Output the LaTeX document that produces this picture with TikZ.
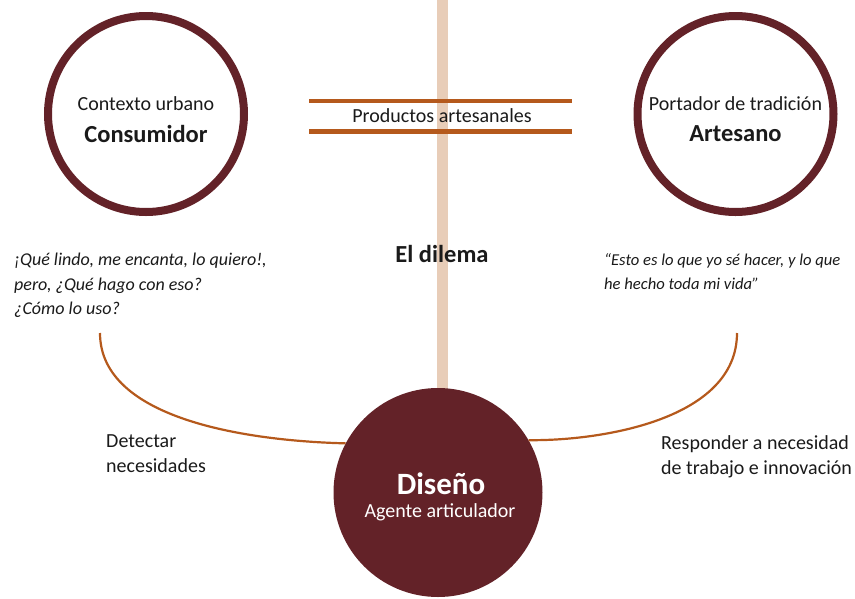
\documentclass[tikz,border=0pt]{standalone}
\usepackage{fontspec}
\setmainfont{Carlito}
\definecolor{wine}{HTML}{632228}
\definecolor{rust}{HTML}{B5591C}
\definecolor{beige}{HTML}{E8CDB8}
\definecolor{ink}{HTML}{1A1A1A}
\begin{document}
\begin{tikzpicture}[x=1pt,y=-1pt,
  ring/.style={circle,draw=wine,line width=8pt,minimum size=196pt,inner sep=0pt,text=ink,align=center},
  txt/.style={text=ink,inner sep=0pt,font=\fontsize{20}{25}\selectfont},
  bold/.style={text=ink,inner sep=0pt,font=\bfseries\fontsize{24.5}{28}\selectfont},
  quote/.style={text=ink,inner sep=0pt,align=left,font=\itshape\fontsize{18}{24.5}\selectfont},
  link/.style={draw=rust,line width=2.2pt},
  bar/.style={draw=rust,line width=4.5pt}]
\useasboundingbox (0,0) rectangle (855,598);
% vertical bar
\coordinate (bt) at (442.5,0);
\coordinate (bb) at (442.5,420);
\draw[beige,line width=11pt] (bt) -- (bb);
% product lines
\coordinate (l1a) at (309,101); \coordinate (l1b) at (572,101);
\coordinate (l2a) at (309,131.5); \coordinate (l2b) at (572,131.5);
\draw[bar] (l1a) -- (l1b);
\draw[bar] (l2a) -- (l2b);
\node[txt] (prod) at (442,116) {Productos artesanales};
% circles
\node[ring] (cons) at (146,114) {};
\node[txt] (cons1) at (146,104) {Contexto urbano};
\node[bold] (cons2) at (146,134) {Consumidor};
\node[ring] (art) at (735.5,114) {};
\node[txt] (art1) at (735.5,104) {Portador de tradición};
\node[bold] (art2) at (735.5,134) {Artesano};
\node[bold] (dil) at (442,254) {El dilema};
% quotes
\node[quote,anchor=north west] (q1) at (14,253) {¡Qué lindo, me encanta, lo quiero!,\\pero, ¿Qué hago con eso?\\¿Cómo lo uso?};
\node[quote,anchor=north west,font=\itshape\fontsize{16.6}{24.5}\selectfont] (q2) at (604,253) {“Esto es lo que yo sé hacer, y lo que\\he hecho toda mi vida”};
% design circle
\node[circle,fill=wine,minimum size=209pt,inner sep=0pt] (dis) at (438,492.5) {};
\node[text=white,inner sep=0pt,font=\bfseries\fontsize{31}{33}\selectfont] (dis1) at (441,484) {Diseño};
\node[txt,text=white] (dis2) at (440,512) {Agente articulador};
% curves
\coordinate (cl) at (100,333);
\coordinate (cr) at (737,333);
\draw[link] (cl) .. controls (100,420) and (250,441) .. (dis.152);
\draw[link] (cr) .. controls (737,420) and (600,441) .. (dis.30);
% labels
\node[txt,anchor=north west,align=left] (det) at (106,434) {Detectar\\necesidades};
\node[txt,anchor=north west,align=left] (resp) at (661,435) {Responder a necesidad\\de trabajo e innovación};
\end{tikzpicture}
\end{document}
